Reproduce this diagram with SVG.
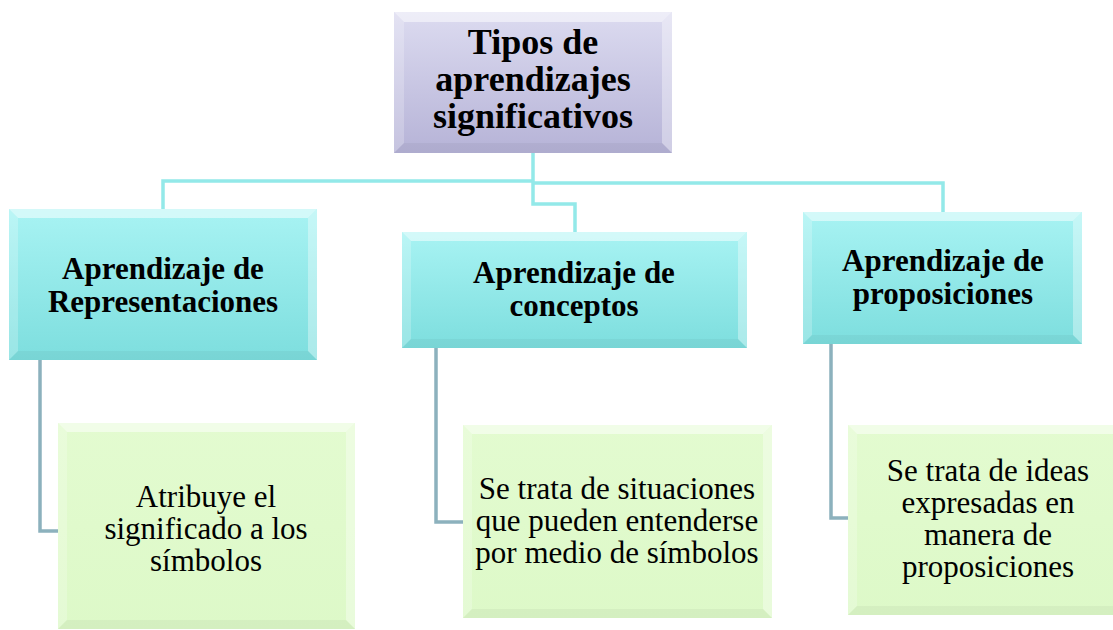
<svg xmlns="http://www.w3.org/2000/svg" width="1113" height="630" viewBox="0 0 1113 630">
  <defs>
    <linearGradient id="gPurple" x1="0" y1="0" x2="0" y2="1">
      <stop offset="0" stop-color="#DCDBF0"/>
      <stop offset="1" stop-color="#B6B3D7"/>
    </linearGradient>
    <linearGradient id="gCyan" x1="0" y1="0" x2="0" y2="1">
      <stop offset="0" stop-color="#A8F3F3"/>
      <stop offset="1" stop-color="#7DDEDE"/>
    </linearGradient>
    <linearGradient id="gGreen" x1="0" y1="0" x2="0" y2="1">
      <stop offset="0" stop-color="#E3FBD0"/>
      <stop offset="1" stop-color="#DDF9C8"/>
    </linearGradient>
    <style>
      .conn-top { fill: none; stroke: #93E9E9; stroke-width: 3.5; }
      .conn-low { fill: none; stroke: #8CB1BD; stroke-width: 3.5; }
      .bt { fill: #FFFFFF; opacity: 0.5; }
      .bl { fill: #FFFFFF; opacity: 0.22; }
      .br { fill: #FFFFFF; opacity: 0.35; }
      .bb { fill: #000000; opacity: 0.04; }
      .purple { fill: url(#gPurple); }
      .cyan { fill: url(#gCyan); }
      .green { fill: url(#gGreen); }
      .title { font-family: "Liberation Serif", "Times New Roman", serif; font-weight: bold; font-size: 36px; fill: #000; text-anchor: middle; }
      .head { font-family: "Liberation Serif", "Times New Roman", serif; font-weight: bold; font-size: 31px; fill: #000; text-anchor: middle; }
      .body { font-family: "Liberation Serif", "Times New Roman", serif; font-size: 31px; fill: #000; text-anchor: middle; }
    </style>
  </defs>
  <rect width="1113" height="630" fill="#FFFFFF"/>

  <g id="connectors">
    <path class="conn-top" d="M533,153 V204 H575 V232"/>
    <path class="conn-top" d="M163,209 V181 H533"/>
    <path class="conn-top" d="M533,183 H943 V212"/>
    <path class="conn-low" d="M40,360 V531 H58"/>
    <path class="conn-low" d="M436,348 V522 H463"/>
    <path class="conn-low" d="M831,344 V518 H848"/>
  </g>

  <g id="node-root">
    <rect class="purple" x="394" y="12" width="278" height="141"/>
    <polygon class="bt" points="394,12 672,12 662,22 404,22"/>
    <polygon class="bl" points="394,12 404,22 404,143 394,153"/>
    <polygon class="br" points="672,12 672,153 662,143 662,22"/>
    <polygon class="bb" points="394,153 404,143 662,143 672,153"/>
    <text class="title" x="533" y="54">Tipos de</text>
    <text class="title" x="533" y="91">aprendizajes</text>
    <text class="title" x="533" y="128">significativos</text>
  </g>

  <g id="node-representaciones">
    <rect class="cyan" x="9" y="209" width="308" height="151"/>
    <polygon class="bt" points="9,209 317,209 308,218 18,218"/>
    <polygon class="bl" points="9,209 18,218 18,351 9,360"/>
    <polygon class="br" points="317,209 317,360 308,351 308,218"/>
    <polygon class="bb" points="9,360 18,351 308,351 317,360"/>
    <text class="head" x="163" y="279">Aprendizaje de</text>
    <text class="head" x="163" y="312">Representaciones</text>
  </g>

  <g id="node-conceptos">
    <rect class="cyan" x="402" y="232" width="345" height="116"/>
    <polygon class="bt" points="402,232 747,232 738,241 411,241"/>
    <polygon class="bl" points="402,232 411,241 411,339 402,348"/>
    <polygon class="br" points="747,232 747,348 738,339 738,241"/>
    <polygon class="bb" points="402,348 411,339 738,339 747,348"/>
    <text class="head" x="574" y="283">Aprendizaje de</text>
    <text class="head" x="574" y="316">conceptos</text>
  </g>

  <g id="node-proposiciones">
    <rect class="cyan" x="803" y="212" width="279" height="132"/>
    <polygon class="bt" points="803,212 1082,212 1073,221 812,221"/>
    <polygon class="bl" points="803,212 812,221 812,335 803,344"/>
    <polygon class="br" points="1082,212 1082,344 1073,335 1073,221"/>
    <polygon class="bb" points="803,344 812,335 1073,335 1082,344"/>
    <text class="head" x="943" y="271">Aprendizaje de</text>
    <text class="head" x="943" y="304">proposiciones</text>
  </g>

  <g id="node-rep-desc">
    <rect class="green" x="58" y="423" width="297" height="206"/>
    <polygon class="bt" points="58,423 355,423 346,432 67,432"/>
    <polygon class="bl" points="58,423 67,432 67,620 58,629"/>
    <polygon class="br" points="355,423 355,629 346,620 346,432"/>
    <polygon class="bb" points="58,629 67,620 346,620 355,629"/>
    <text class="body" x="206" y="507">Atribuye el</text>
    <text class="body" x="206" y="539">significado a los</text>
    <text class="body" x="206" y="571">símbolos</text>
  </g>

  <g id="node-con-desc">
    <rect class="green" x="463" y="425" width="309" height="193"/>
    <polygon class="bt" points="463,425 772,425 763,434 472,434"/>
    <polygon class="bl" points="463,425 472,434 472,609 463,618"/>
    <polygon class="br" points="772,425 772,618 763,609 763,434"/>
    <polygon class="bb" points="463,618 472,609 763,609 772,618"/>
    <text class="body" x="617" y="499">Se trata de situaciones</text>
    <text class="body" x="617" y="531">que pueden entenderse</text>
    <text class="body" x="617" y="563">por medio de símbolos</text>
  </g>

  <g id="node-prop-desc">
    <rect class="green" x="848" y="425" width="281" height="190"/>
    <polygon class="bt" points="848,425 1129,425 1120,434 857,434"/>
    <polygon class="bl" points="848,425 857,434 857,606 848,615"/>
    <polygon class="bb" points="848,615 857,606 1120,606 1129,615"/>
    <text class="body" x="988" y="481">Se trata de ideas</text>
    <text class="body" x="988" y="513">expresadas en</text>
    <text class="body" x="988" y="545">manera de</text>
    <text class="body" x="988" y="577">proposiciones</text>
  </g>
</svg>
